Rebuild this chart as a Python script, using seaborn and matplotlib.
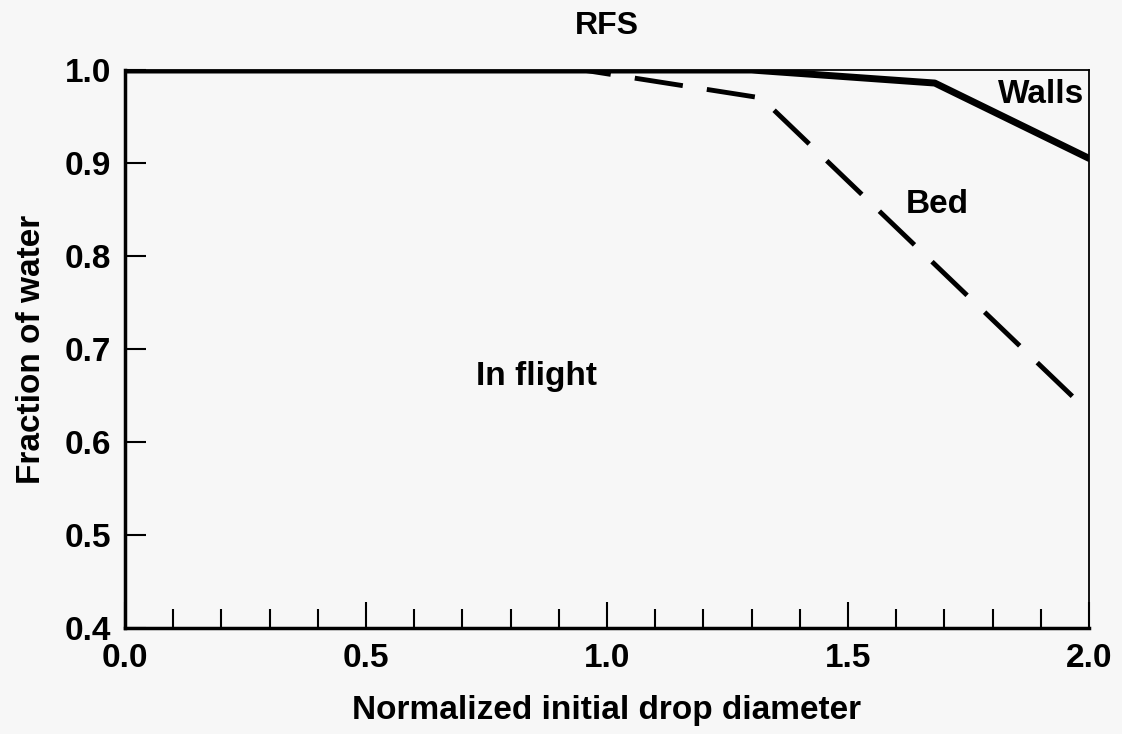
import matplotlib
matplotlib.use("Agg")
import matplotlib.pyplot as plt
import pandas as pd
import seaborn as sns
from matplotlib.ticker import MultipleLocator

# data
walls_x = [0.0, 1.30, 1.68, 2.0]
walls_y = [1.0, 1.0, 0.986, 0.905]
bed_x = [0.0, 0.95, 1.32, 2.0]
bed_y = [1.0, 1.0, 0.970, 0.632]

x_ticks = [0.0, 0.5, 1.0, 1.5, 2.0]
y_ticks = [0.4, 0.5, 0.6, 0.7, 0.8, 0.9, 1.0]

sns.set_theme(style="white")
plt.rcParams["font.family"] = ["Liberation Sans", "DejaVu Sans"]
plt.rcParams["font.weight"] = "bold"
for key in ["text.color", "axes.labelcolor", "xtick.color", "ytick.color"]:
    plt.rcParams[key] = "black"

bg = "#f7f7f7"
fig = plt.figure(figsize=(11.22, 7.34), dpi=100, facecolor=bg)
ax = fig.add_axes([0.1114, 0.1444, 0.8592, 0.7602], facecolor=bg)

walls = pd.DataFrame({"x": walls_x, "y": walls_y})
bed = pd.DataFrame({"x": bed_x, "y": bed_y})

sns.lineplot(data=bed, x="x", y="y", ax=ax, color="black", linewidth=3.5)
ax.lines[-1].set_dashes([10, 5])
ax.lines[-1].set_dash_capstyle("butt")
sns.lineplot(data=walls, x="x", y="y", ax=ax, color="black", linewidth=5.0)

ax.set_xlim(0, 2.0)
ax.set_ylim(0.4, 1.0)
ax.set_xticks(x_ticks)
ax.set_yticks(y_ticks)
ax.set_xticklabels([f"{v:.1f}" for v in x_ticks])
ax.set_yticklabels([f"{v:.1f}" for v in y_ticks])
ax.xaxis.set_minor_locator(MultipleLocator(0.1))

ax.tick_params(axis="x", which="major", direction="in", length=19, width=1.5,
               labelsize=24, pad=11, bottom=True)
ax.tick_params(axis="x", which="minor", direction="in", length=14, width=1.5,
               bottom=True)
ax.tick_params(axis="y", which="major", direction="in", length=15, width=1.5,
               labelsize=24, pad=10, left=True)
for lbl in ax.get_xticklabels() + ax.get_yticklabels():
    lbl.set_fontweight("bold")

for side in ["left", "bottom"]:
    ax.spines[side].set_linewidth(2.5)
for side in ["top", "right"]:
    ax.spines[side].set_linewidth(1.3)
for s in ax.spines.values():
    s.set_color("black")

ax.set_xlabel("Normalized initial drop diameter", fontsize=24, fontweight="bold", labelpad=15)
ax.set_ylabel("Fraction of water", fontsize=24, fontweight="bold", labelpad=13)
ax.set_title("RFS", fontsize=23, fontweight="bold", pad=26)

ax.text(0.853, 0.661, "In flight", fontsize=24, fontweight="bold", ha="center", va="baseline")
ax.text(1.685, 0.846, "Bed", fontsize=24, fontweight="bold", ha="center", va="baseline")
ax.text(1.900, 0.9645, "Walls", fontsize=24, fontweight="bold", ha="center", va="baseline")

if ax.get_legend():
    ax.get_legend().remove()

fig.savefig("out.png", dpi=100, facecolor=bg)
